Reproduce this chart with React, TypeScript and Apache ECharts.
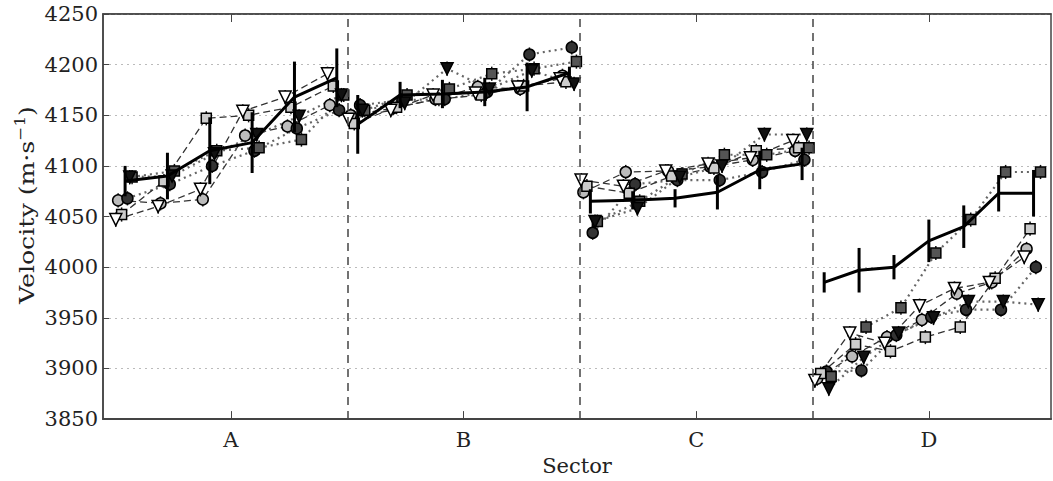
import React, { useEffect, useRef } from "react";
import * as echarts from "echarts";

// Sector categories and tick labels
const SECTORS = ["A", "B", "C", "D"];
const Y_TICKS = [3850, 3900, 3950, 4000, 4050, 4100, 4150, 4200, 4250];

// Positions of the measurements inside a sector (offset from the sector centre)
const POS_ABC = [-0.455, -0.273, -0.091, 0.091, 0.273, 0.455];
const POS_D = [-0.45, -0.3, -0.15, 0, 0.15, 0.3, 0.45];

// Mean velocity (solid line) and its error half-widths, per sector
const MEAN_VEL = [
  [4085, 4090, 4115, 4123, 4168, 4187],
  [4141, 4170, 4171, 4173, 4178, 4192],
  [4065, 4066, 4068, 4074, 4096, 4102],
  [3985, 3997, 4000, 4026, 4040, 4073, 4073],
];
const MEAN_ERR = [
  [15, 23, 33, 30, 35, 29],
  [29, 13, 14, 14, 24, 6],
  [12, 9, 9, 17, 19, 16],
  [10, 22, 12, 21, 21, 18, 23],
];

// Individual series, per sector
const CIRC_OPEN = [
  [4066, 4063, 4067, 4130, 4139, 4160],
  [4150, 4157, 4166, 4178, 4176, 4189],
  [4074, 4094, 4095, 4099, 4106, 4115],
  [3890, 3912, 3931, 3948, 3974, 3985, 4018],
];
const CIRC_FILL = [
  [4068, 4082, 4100, 4115, 4137, 4155],
  [4160, 4165, 4166, 4173, 4210, 4217],
  [4034, 4082, 4086, 4086, 4094, 4106],
  [3897, 3898, 3933, 3951, 3958, 3958, 4000],
];
const SQ_OPEN = [
  [4052, 4085, 4147, 4150, 4158, 4179],
  [4142, 4158, 4166, 4170, 4179, 4183],
  [4080, 4073, 4090, 4098, 4115, 4118],
  [3895, 3924, 3917, 3931, 3941, 3989, 4038],
];
const SQ_FILL = [
  [4089, 4095, 4115, 4118, 4126, 4170],
  [4155, 4170, 4176, 4191, 4196, 4203],
  [4045, 4065, 4092, 4111, 4111, 4118],
  [3892, 3941, 3960, 4014, 4047, 4094, 4094],
];
const TRI_FILL = [
  [4089, 4090, 4112, 4131, 4149, 4170],
  [4155, 4162, 4196, 4176, 4194, 4181],
  [4045, 4058, 4089, 4100, 4131, 4131],
  [3880, 3911, 3935, 3950, 3966, 3966, 3963],
];
const TRI_OPEN = [
  [4047, 4060, 4077, 4154, 4168, 4191],
  [4146, 4155, 4170, 4172, 4178, 4186],
  [4086, 4080, 4095, 4102, 4108, 4125],
  [3888, 3935, 3925, 3962, 3979, 3985, 4010],
];
const MARKER_ERR = 7;

const FONT = "DejaVu Serif";

type MarkerStyle = {
  values: number[][];
  symbol: string;
  rotate: number;
  fill: string;
  dash: "dotted" | "dashed";
  off: number;
  size: number;
};

const MARKERS: MarkerStyle[] = [
  { values: CIRC_OPEN, symbol: "circle", rotate: 0, fill: "#bbb", dash: "dashed", off: -0.03, size: 11 },
  { values: CIRC_FILL, symbol: "circle", rotate: 0, fill: "#333", dash: "dotted", off: 0.01, size: 11 },
  { values: SQ_OPEN, symbol: "rect", rotate: 0, fill: "#ccc", dash: "dashed", off: -0.015, size: 10 },
  { values: SQ_FILL, symbol: "rect", rotate: 0, fill: "#555", dash: "dotted", off: 0.03, size: 10 },
  { values: TRI_FILL, symbol: "triangle", rotate: 180, fill: "#111", dash: "dotted", off: 0.02, size: 12 },
  { values: TRI_OPEN, symbol: "triangle", rotate: 180, fill: "#fff", dash: "dashed", off: -0.04, size: 12 },
];

function positions(s: number) {
  return s === 3 ? POS_D : POS_ABC;
}

function errorSeries(data: number[][], width: number, color: string, z: number) {
  return {
    type: "custom",
    silent: true,
    z,
    encode: { x: 0, y: [1, 2] },
    data,
    renderItem: (_params: any, api: any) => {
      const x = api.value(0);
      const p1 = api.coord([x, api.value(1)]);
      const p2 = api.coord([x, api.value(2)]);
      return {
        type: "line",
        shape: { x1: p1[0], y1: p1[1], x2: p2[0], y2: p2[1] },
        style: { stroke: color, lineWidth: width },
      };
    },
  };
}

export default function App() {
  const ref = useRef<HTMLDivElement>(null);

  useEffect(() => {
    if (!ref.current) return;
    const chart = echarts.init(ref.current, undefined, { renderer: "svg" });

    const series: any[] = [];
    const markerErr: number[][] = [];

    MARKERS.forEach((m) => {
      m.values.forEach((vals, s) => {
        const pos = positions(s);
        const data = vals.map((v, k) => [s + 1 + pos[k] + m.off, v]);
        data.forEach((d) => markerErr.push([d[0], d[1] - MARKER_ERR, d[1] + MARKER_ERR]));
        series.push({
          type: "line",
          data,
          symbol: m.symbol,
          symbolSize: m.size,
          symbolRotate: m.rotate,
          showAllSymbol: true,
          z: 3,
          lineStyle:
            m.dash === "dotted"
              ? { color: "#666", width: 2.2, type: [2, 4] }
              : { color: "#333", width: 1.3, type: [7, 4] },
          itemStyle: { color: m.fill, borderColor: "#000", borderWidth: 1.5 },
          silent: true,
        });
      });
    });

    series.push(errorSeries(markerErr, 1.5, "#111", 2));

    const meanErr: number[][] = [];
    MEAN_VEL.forEach((vals, s) => {
      const pos = positions(s);
      const data = vals.map((v, k) => [s + 1 + pos[k], v]);
      data.forEach((d, k) => meanErr.push([d[0], d[1] - MEAN_ERR[s][k], d[1] + MEAN_ERR[s][k]]));
      series.push({
        type: "line",
        data,
        symbol: "none",
        z: 5,
        lineStyle: { color: "#000", width: 3, type: "solid" },
        silent: true,
        markLine:
          s === 0
            ? {
                silent: true,
                symbol: ["none", "none"],
                label: { show: false },
                lineStyle: { color: "#444", width: 1.5, type: [8, 6] },
                data: [{ xAxis: 1.5 }, { xAxis: 2.5 }, { xAxis: 3.5 }],
              }
            : undefined,
      });
    });
    series.push(errorSeries(meanErr, 3, "#000", 6));

    chart.setOption({
      animation: false,
      grid: {
        left: 103,
        right: 2,
        top: 14,
        bottom: 55,
        show: true,
        borderColor: "#444",
        borderWidth: 1.5,
      },
      xAxis: [
        {
          type: "value",
          min: 0.45,
          max: 4.525,
          axisLine: { show: true, lineStyle: { color: "#444", width: 2 } },
          axisTick: { show: true, inside: true, length: 8, customValues: [1, 2, 3, 4], lineStyle: { color: "#444" } },
          axisLabel: {
            customValues: [1, 2, 3, 4],
            formatter: (v: number) => SECTORS[Math.round(v) - 1] ?? "",
            fontFamily: FONT,
            fontSize: 21,
            color: "#222",
            margin: 10,
          },
          splitLine: { show: false },
          name: "Sector",
          nameLocation: "middle",
          nameGap: 31,
          nameTextStyle: { fontFamily: FONT, fontSize: 21, color: "#222" },
        },
        {
          type: "value",
          position: "top",
          min: 0.45,
          max: 4.525,
          axisLine: { show: true, lineStyle: { color: "#444", width: 1.5 } },
          axisTick: { show: true, inside: true, length: 8, customValues: [1, 2, 3, 4], lineStyle: { color: "#444" } },
          axisLabel: { show: false },
          splitLine: { show: false },
        },
      ],
      yAxis: {
        type: "value",
        min: Y_TICKS[0],
        max: Y_TICKS[Y_TICKS.length - 1],
        interval: 50,
        axisLine: { show: true, lineStyle: { color: "#444", width: 1.5 } },
        axisTick: { show: true, inside: true, length: 6, lineStyle: { color: "#444" } },
        axisLabel: {
          fontFamily: FONT,
          fontSize: 21,
          color: "#222",
          margin: 5,
          formatter: (v: number) => String(v),
        },
        splitLine: { show: true, lineStyle: { color: "#bbb", width: 1.2, type: [2, 4] } },
      },
      graphic: [
        {
          type: "text",
          x: 26,
          y: 205,
          rotation: Math.PI / 2,
          scaleX: 1.2,
          style: {
            text: "Velocity (m·s{sup|−1})",
            fontFamily: FONT,
            fontSize: 21,
            fill: "#222",
            align: "center",
            verticalAlign: "middle",
            rich: {
              sup: { fontFamily: FONT, fontSize: 14, fill: "#222", verticalAlign: "bottom", padding: [0, 0, 12, 0] },
            },
          },
        },
      ],
      series,
    });

    return () => chart.dispose();
  }, []);

  return (
    <div
      ref={ref}
      style={{ position: "absolute", left: 0, top: 0, width: 1053, height: 481 }}
    />
  );
}
